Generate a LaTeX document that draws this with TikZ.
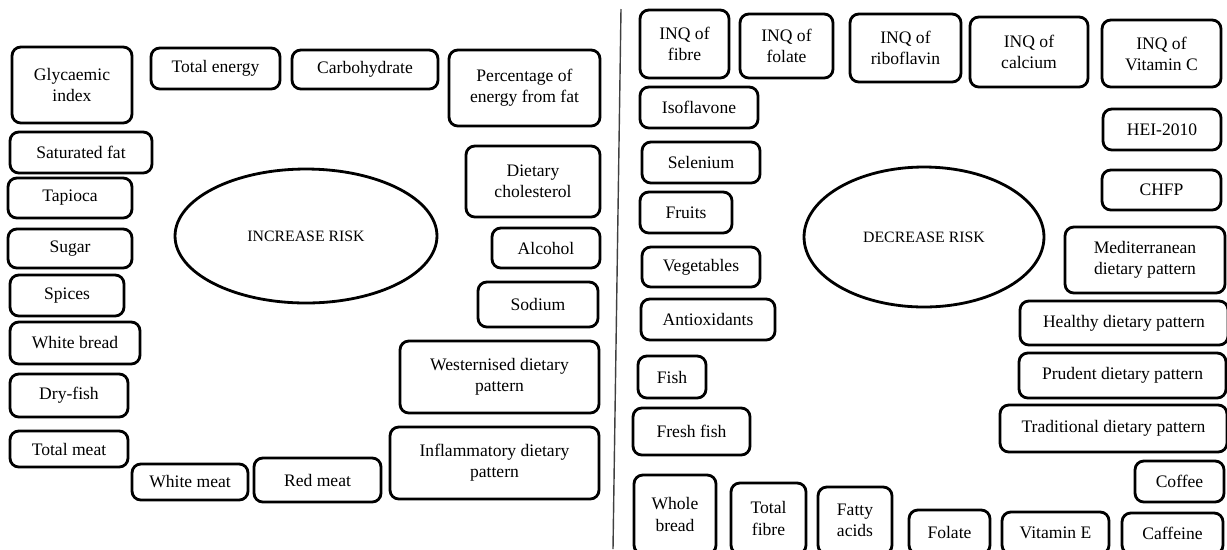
\documentclass[tikz,border=0pt]{standalone}
\usepackage{fontspec}
\setmainfont{Liberation Serif}
\usetikzlibrary{shapes.geometric}

\begin{document}
\begin{tikzpicture}[x=0.02cm,y=-0.02cm,font=\fontsize{10}{12}\selectfont,
 fb/.style={draw,line width=1.6pt,rounded corners=5pt,align=center,inner sep=1pt},
 rk/.style={draw,ellipse,line width=1.6pt,inner sep=0pt,font=\fontsize{9}{11}\selectfont}]
\useasboundingbox (0,0) rectangle (1227,549);
\clip (0,0) rectangle (1227,549);
% increase risk side
\node[rk,minimum width=5.24cm,minimum height=2.68cm] (incr) at (306,236) {INCREASE RISK};
\node[fb,minimum width=2.4cm,minimum height=1.52cm] (glyc) at (72,85) {Glycaemic\\index};
\node[fb,minimum width=2.58cm,minimum height=0.82cm] (toten) at (215.5,68.5) {Total energy};
\node[fb,minimum width=2.92cm,minimum height=0.78cm] (carb) at (365,69.5) {Carbohydrate};
\node[fb,minimum width=3.02cm,minimum height=1.52cm] (pctfat) at (524.5,88) {Percentage of\\energy from fat};
\node[fb,minimum width=2.84cm,minimum height=0.82cm] (satfat) at (81,152.5) {Saturated fat};
\node[fb,minimum width=2.48cm,minimum height=0.8cm] (tapioca) at (70,198) {Tapioca};
\node[fb,minimum width=2.68cm,minimum height=1.42cm] (chol) at (533,181.5) {Dietary\\cholesterol};
\node[fb,minimum width=2.48cm,minimum height=0.78cm] (sugar) at (70,248.5) {Sugar};
\node[fb,minimum width=2.16cm,minimum height=0.8cm] (alcohol) at (546,248) {Alcohol};
\node[fb,minimum width=2.28cm,minimum height=0.82cm] (spices) at (67,295.5) {Spices};
\node[fb,minimum width=2.4cm,minimum height=0.9cm] (sodium) at (538,304.5) {Sodium};
\node[fb,minimum width=2.6cm,minimum height=0.84cm] (wbread) at (75,343) {White bread};
\node[fb,minimum width=3.98cm,minimum height=1.44cm] (western) at (499.5,377) {Westernised dietary\\pattern};
\node[fb,minimum width=2.36cm,minimum height=0.86cm] (dryfish) at (69,395.5) {Dry-fish};
\node[fb,minimum width=2.36cm,minimum height=0.72cm] (totmeat) at (69,449) {Total meat};
\node[fb,minimum width=4.18cm,minimum height=1.44cm] (inflam) at (494.5,463) {Inflammatory dietary\\pattern};
\node[fb,minimum width=2.32cm,minimum height=0.72cm] (wmeat) at (190,482) {White meat};
\node[fb,minimum width=2.54cm,minimum height=0.88cm] (rmeat) at (317.5,480) {Red meat};
% divider
\coordinate (divtop) at (621,9);
\coordinate (divbot) at (613,549);
\draw[line width=0.8pt,black!75] (divtop) -- (divbot);
% decrease risk side
\node[rk,minimum width=4.8cm,minimum height=2.8cm] (decr) at (924,237) {DECREASE RISK};
\node[fb,minimum width=1.78cm,minimum height=1.36cm] (inqfib) at (684.5,44) {INQ of\\fibre};
\node[fb,minimum width=1.86cm,minimum height=1.28cm] (inqfol) at (786.5,46) {INQ of\\folate};
\node[fb,minimum width=2.22cm,minimum height=1.36cm] (inqrib) at (905.5,48) {INQ of\\riboflavin};
\node[fb,minimum width=2.36cm,minimum height=1.4cm] (inqcal) at (1029,52) {INQ of\\calcium};
\node[fb,minimum width=2.38cm,minimum height=1.34cm] (inqvitc) at (1161.5,53.5) {INQ of\\Vitamin C};
\node[fb,minimum width=2.36cm,minimum height=0.82cm] (isofl) at (699,107.5) {Isoflavone};
\node[fb,minimum width=2.36cm,minimum height=0.82cm] (hei) at (1162,129.5) {HEI-2010};
\node[fb,minimum width=2.36cm,minimum height=0.82cm] (selen) at (701,162.5) {Selenium};
\node[fb,minimum width=2.38cm,minimum height=0.8cm] (chfp) at (1161.5,190) {CHFP};
\node[fb,minimum width=1.84cm,minimum height=0.82cm] (fruits) at (686,212.5) {Fruits};
\node[fb,minimum width=2.36cm,minimum height=0.8cm] (veg) at (701,267) {Vegetables};
\node[fb,minimum width=3.2cm,minimum height=1.32cm] (medit) at (1145,260) {Mediterranean\\dietary pattern};
\node[fb,minimum width=2.68cm,minimum height=0.82cm] (antiox) at (708,319.5) {Antioxidants};
\node[fb,minimum width=4.16cm,minimum height=0.88cm] (healthy) at (1124,323) {Healthy dietary pattern};
\node[fb,minimum width=1.36cm,minimum height=0.84cm] (fish) at (672,377) {Fish};
\node[fb,minimum width=4.14cm,minimum height=0.9cm] (prudent) at (1122.5,375.5) {Prudent dietary pattern};
\node[fb,minimum width=2.34cm,minimum height=0.94cm] (freshfish) at (691.5,431.5) {Fresh fish};
\node[fb,minimum width=4.54cm,minimum height=0.94cm] (trad) at (1113.5,428.5) {Traditional dietary pattern};
\node[fb,minimum width=1.78cm,minimum height=0.82cm] (coffee) at (1179.5,481.5) {Coffee};
% bottom row runs off the page
\node[fb,minimum width=1.64cm,minimum height=1.58cm] (wholebr) at (675,514.5) {Whole\\bread};
\node[fb,minimum width=1.5cm,minimum height=1.42cm] (totfib) at (768.5,518.5) {Total\\fibre};
\node[fb,minimum width=1.48cm,minimum height=1.34cm] (fatty) at (855,520.5) {Fatty\\acids};
\node[fb,minimum width=1.62cm,minimum height=0.88cm] (folate) at (949.5,532) {Folate};
\node[fb,minimum width=2.14cm,minimum height=0.84cm] (vite) at (1055.5,533) {Vitamin E};
\node[fb,minimum width=2.02cm,minimum height=0.82cm] (caff) at (1172.5,533.5) {Caffeine};
\end{tikzpicture}
\end{document}
